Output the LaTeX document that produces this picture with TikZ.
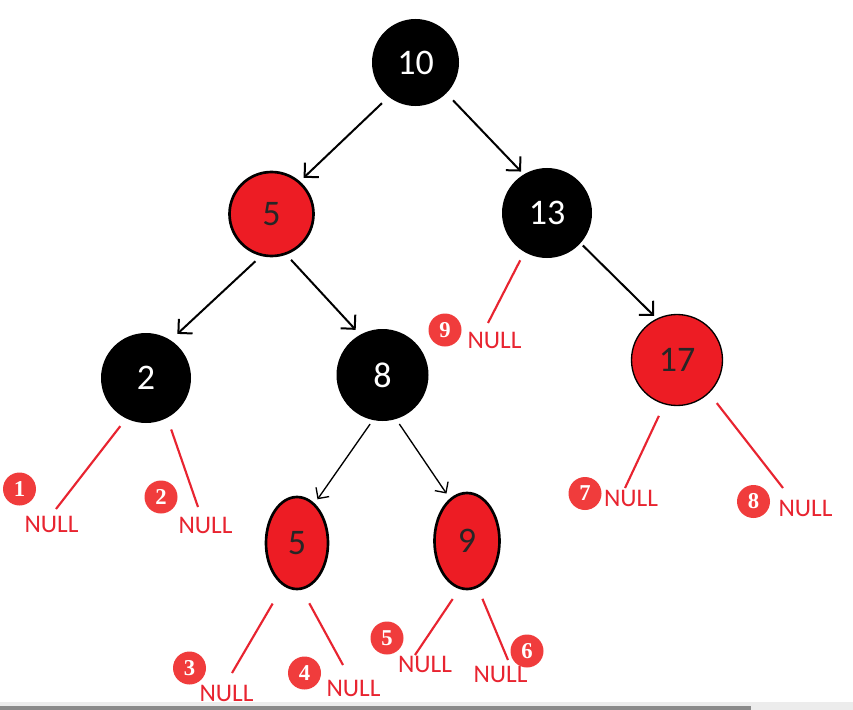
\documentclass[tikz,border=0pt]{standalone}
\usepackage{fontspec}
\setmainfont{Carlito}
\newfontfamily\badgefont{Liberation Serif}
\usetikzlibrary{arrows.meta,shapes.geometric}
\definecolor{nodered}{RGB}{237,28,36}
\definecolor{nullred}{RGB}{232,36,48}
\definecolor{badgered}{RGB}{240,60,60}
\definecolor{barlight}{RGB}{236,236,236}
\definecolor{bardark}{RGB}{138,138,138}
\tikzset{
  blknode/.style={circle,fill=black,draw=black,line width=1.5pt,inner sep=0pt,text=white,font=\fontsize{27}{27}\selectfont},
  rednode/.style={circle,fill=nodered,draw=black,line width=2pt,inner sep=0pt,text=black!85,font=\fontsize{27}{27}\selectfont},
  redell/.style={ellipse,fill=nodered,draw=black,line width=2pt,inner sep=0pt,text=black!85,font=\fontsize{27}{27}\selectfont},
  arr/.style={-{Straight Barb[length=7.5pt,width=15pt]},line width=1.5pt,black},
  thinarr/.style={-{Straight Barb[length=6pt,width=12pt]},line width=1pt,black},
  nline/.style={line width=1.6pt,nullred},
  nulltxt/.style={text=nullred,font=\fontsize{19}{19}\selectfont,inner sep=0pt},
  badge/.style={circle,fill=badgered,text=white,minimum size=24.75pt,inner sep=0pt,font=\badgefont\bfseries\fontsize{17}{17}\selectfont}
}
\begin{document}
\begin{tikzpicture}[x=0.75pt,y=-0.75pt]
\useasboundingbox (0,0) rectangle (853,710);
\fill[white] (0,0) rectangle (853,710);
% bottom bar
\fill[barlight] (0,702) rectangle (853,710);
\fill[bardark] (0,705.5) rectangle (751,710);

% tree nodes
\node[blknode,minimum size=63.75pt] (n10) at (415.5,62.5) {10};
\node[rednode,minimum size=63pt] (n5) at (271.5,214) {5};
\node[blknode,minimum size=66pt] (n13) at (547,213) {13};
\node[blknode,minimum size=66pt] (n2) at (146,378) {2};
\node[blknode,minimum size=67.5pt] (n8) at (382.5,375) {8};
\node[rednode,minimum size=68.25pt,line width=1pt] (n17) at (677,360) {17};
\node[redell,minimum width=46.5pt,minimum height=69pt] (n5b) at (297,543) {5};
\node[redell,minimum width=48.75pt,minimum height=72pt] (n9) at (467,541) {9};

% arrows
\draw[arr,shorten <=7pt,shorten >=3.8pt] (n10.-128.7) -- (n5.49.7);
\draw[arr,shorten <=7.3pt,shorten >=3pt] (n10.-45.8) -- (n13.121.4);
\draw[arr,shorten <=5.7pt,shorten >=7pt] (n5.-104.6) -- (n2.57.2);
\draw[arr,shorten <=5.2pt,shorten >=5pt] (n5.-70.3) -- (n8.119.5);
\draw[arr,shorten <=2.5pt,shorten >=2.8pt] (n13.-42.4) -- (n17.116.6);
\draw[thinarr,shorten <=3.7pt,shorten >=3.7pt] (n8.-102) -- (n5b.66);
\draw[thinarr,shorten <=4.5pt,shorten >=4.5pt] (n8.-73.5) -- (n9.112);

% free ends of NULL lines
\coordinate (e1) at (56,509);
\coordinate (e2) at (198,507);
\coordinate (e9) at (488,323);
\coordinate (e7) at (625,488);
\coordinate (e8) at (783,488);
\coordinate (e3) at (232,673);
\coordinate (e4) at (343,665);
\coordinate (e5) at (415,655);
\coordinate (e6) at (508,660);

% NULL lines
\draw[nline,shorten <=7.3pt] (n2.-116.6) -- (e1);
\draw[nline,shorten <=9.3pt] (n2.-62.5) -- (e2);
\draw[nline,shorten <=7pt] (n13.-120.4) -- (e9);
\draw[nline,shorten <=9.5pt] (n17.-106) -- (e7);
\draw[nline,shorten <=9.4pt] (n17.-46.4) -- (e8);
\draw[nline,shorten <=15.5pt] (n5b.-108.2) -- (e3);
\draw[nline,shorten <=11.5pt] (n5b.-84.4) -- (e4);
\draw[nline,shorten <=9pt] (n9.-99.6) -- (e5);
\draw[nline,shorten <=9pt] (n9.-77.2) -- (e6);

% NULL labels
\node[nulltxt] (t1) at (51.5,524) {NULL};
\node[nulltxt] (t2) at (205.5,525) {NULL};
\node[nulltxt] (t9) at (494.5,340) {NULL};
\node[nulltxt] (t7) at (631,498.5) {NULL};
\node[nulltxt] (t8) at (805.5,508.5) {NULL};
\node[nulltxt] (t3) at (226.5,693.5) {NULL};
\node[nulltxt] (t4) at (353.5,688) {NULL};
\node[nulltxt] (t5) at (425,664.5) {NULL};
\node[nulltxt] (t6) at (500.5,674.5) {NULL};

% badges
\node[badge] (b1) at (19.5,489) {1};
\node[badge] (b2) at (161,497) {2};
\node[badge] (b9) at (445,330) {9};
\node[badge] (b7) at (585,493.5) {7};
\node[badge] (b8) at (753.5,501.5) {8};
\node[badge] (b3) at (189.5,668) {3};
\node[badge] (b4) at (304.5,673) {4};
\node[badge] (b5) at (387,638) {5};
\node[badge] (b6) at (527,651) {6};
\end{tikzpicture}
\end{document}
